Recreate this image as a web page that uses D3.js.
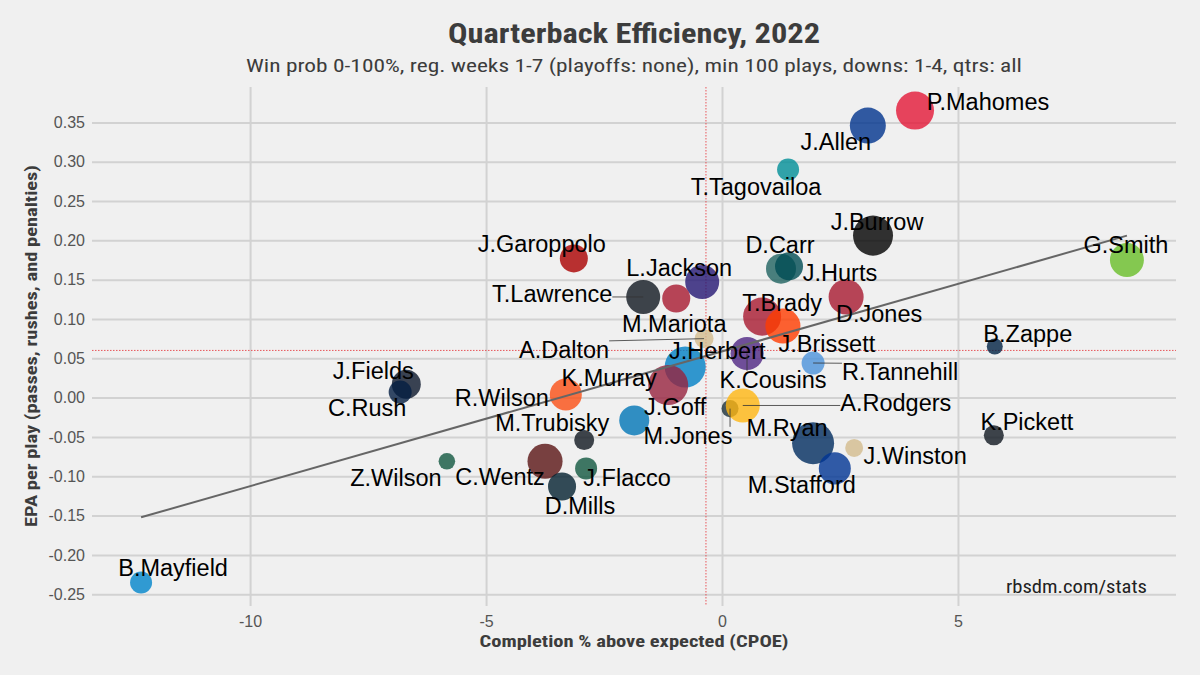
<!DOCTYPE html>
<html>
<head>
<meta charset="utf-8">
<script src="https://cdn.jsdelivr.net/npm/d3@7"></script>
<style>
  body { margin: 0; background: #F0F0F0; }
  text { font-family: "Liberation Sans", Arial, sans-serif; }
  .narrow { font-family: "Liberation Sans Narrow", "Roboto Condensed", Roboto, sans-serif; }
</style>
</head>
<body>
<svg id="chart" width="1200" height="675"></svg>
<script>
// QB data
var players = ["P.Mahomes","J.Allen","T.Tagovailoa","J.Burrow","G.Smith","D.Carr","J.Hurts","D.Jones","T.Brady","J.Brissett",
  "L.Jackson","T.Lawrence","M.Mariota","A.Dalton","J.Garoppolo","J.Herbert","K.Murray","K.Cousins","R.Tannehill","R.Wilson",
  "J.Goff","M.Jones","A.Rodgers","M.Trubisky","M.Ryan","M.Stafford","J.Winston","K.Pickett","B.Zappe","J.Fields",
  "C.Rush","Z.Wilson","C.Wentz","J.Flacco","D.Mills","B.Mayfield"];
var cpoe = [4.09, 3.09, 1.40, 3.20, 8.58, 1.25, 1.42, 2.63, 0.85, 1.29,
  -0.42, -1.67, -0.97, -0.38, -3.14, -0.78, -1.14, 0.53, 1.93, -3.31,
  -1.86, 0.17, 0.44, -2.92, 1.93, 2.39, 2.80, 5.76, 5.78, -6.69,
  -6.82, -5.83, -3.75, -2.88, -3.39, -12.31];
var epa = [0.365, 0.346, 0.290, 0.206, 0.175, 0.164, 0.167, 0.128, 0.103, 0.091,
  0.147, 0.128, 0.126, 0.075, 0.177, 0.039, 0.016, 0.056, 0.044, 0.004,
  -0.029, -0.014, -0.010, -0.054, -0.058, -0.090, -0.064, -0.048, 0.065, 0.017,
  0.007, -0.081, -0.081, -0.090, -0.113, -0.235];
var plays = [361, 333, 169, 390, 306, 256, 233, 320, 361, 320,
  306, 306, 233, 141, 233, 405, 390, 293, 179, 281,
  256, 124, 306, 150, 420, 281, 132, 150, 116, 244,
  179, 120, 320, 169, 233, 169];
var teamColors = ["#E31837","#00338D","#008E97","#000000","#69BE28","#1F6360","#004C54","#A71930","#A71930","#FF3C00",
  "#241773","#101820","#A71930","#D3BC8D","#AA0000","#0080C6","#97233F","#4F2683","#4B92DB","#FB4F14",
  "#0076B6","#1B3038","#FFB612","#101820","#002C5F","#003594","#D3BC8D","#101820","#002244","#0B162A",
  "#041E42","#125740","#5A1414","#125740","#03202F","#0085CA"];

var xTicks = [-10, -5, 0, 5];
var yTicks = [-0.25, -0.20, -0.15, -0.10, -0.05, 0, 0.05, 0.10, 0.15, 0.20, 0.25, 0.30, 0.35];
var meanCpoe = -0.34, meanEpa = 0.060;

// label layout (pixel nudges from each point, like ggrepel placed them)
var labelNudge = [[73,-9],[-32,16],[-32,17],[4,-14],[-1,-15],[-1,-24],[51,6],[33,17],[20,-14],[44,18],
  [-23,-14],[-91,-3],[-2,25],[-140,11],[-32,-15],[32,-16],[-59,-7],[26,26],[87,9],[-64,3],
  [41,-14],[-42,27],[153,-3],[-32,-17],[-26,-15],[-33,16],[61,8],[33,-14],[33,-13],[-33,-13],
  [-33,16],[-51,16],[-45,15],[41,9],[18,19],[32,-15]];
var withSegment = ["T.Lawrence","A.Dalton","K.Cousins","R.Tannehill","M.Jones","A.Rodgers"];

var data = players.map(function(p, i) {
  return {name: p, x: cpoe[i], y: epa[i], n: plays[i], color: teamColors[i], nudge: labelNudge[i]};
});

var svg = d3.select("#chart");
svg.append("rect").attr("width", 1200).attr("height", 675).attr("fill", "#F0F0F0");

var padL = 92, padR = 1176, padT = 87, padB = 606;
var x = d3.scaleLinear().domain([-13.35, 9.62]).range([padL, padR]);
var y = d3.scaleLinear().domain([-0.265, 0.395]).range([padB, padT]);
var r = d3.scaleSqrt().domain([100, 420]).range([7, 21]);

var loc = d3.formatLocale({decimal: ".", thousands: ",", grouping: [3], currency: ["$", ""], minus: "-"});

// axes + grid
var yAxis = svg.append("g").attr("transform", "translate(" + padL + ",0)")
  .call(d3.axisLeft(y).tickValues(yTicks).tickSize(-(padR - padL)).tickPadding(7).tickFormat(loc.format(".2f")));
var xAxis = svg.append("g").attr("transform", "translate(0," + padB + ")")
  .call(d3.axisBottom(x).tickValues(xTicks).tickSize(0).tickPadding(10).tickFormat(loc.format("d")));
xAxis.selectAll(".tick line").attr("y1", -(padB - padT)).attr("y2", 0);
[yAxis, xAxis].forEach(function(g) {
  g.select(".domain").remove();
  g.selectAll(".tick line").attr("stroke", "#D2D2D2").attr("stroke-width", 2);
  g.selectAll(".tick text").attr("fill", "#555").style("font-size", "16px")
    .style("font-family", "'Liberation Sans', Arial, sans-serif");
});

// average lines
svg.append("line").attr("x1", x(meanCpoe)).attr("x2", x(meanCpoe)).attr("y1", padT).attr("y2", padB)
  .attr("stroke", "#E8464B").attr("stroke-width", 1).attr("stroke-dasharray", "1.5,1.5").attr("opacity", 0.9);
svg.append("line").attr("x1", padL).attr("x2", padR).attr("y1", y(meanEpa)).attr("y2", y(meanEpa))
  .attr("stroke", "#E8464B").attr("stroke-width", 1).attr("stroke-dasharray", "1.5,1.5").attr("opacity", 0.9);

// points
svg.append("g").selectAll("circle").data(data).enter().append("circle")
  .attr("cx", function(d) { return x(d.x); })
  .attr("cy", function(d) { return y(d.y); })
  .attr("r", function(d) { return r(d.n); })
  .attr("fill", function(d) { return d.color; })
  .attr("fill-opacity", 0.8);

// linear fit
var mx = d3.mean(cpoe), my = d3.mean(epa);
var slope = d3.sum(data, function(d) { return (d.x - mx) * (d.y - my); }) / d3.sum(data, function(d) { return (d.x - mx) * (d.x - mx); });
var icpt = my - slope * mx;
var xr = d3.extent(cpoe);
svg.append("line")
  .attr("x1", x(xr[0])).attr("y1", y(icpt + slope * xr[0]))
  .attr("x2", x(xr[1])).attr("y2", y(icpt + slope * xr[1]))
  .attr("stroke", "#666").attr("stroke-width", 2);

// labels
var labels = svg.append("g");
var segs = svg.append("g");
data.forEach(function(d) {
  var px = x(d.x), py = y(d.y);
  var t = labels.append("text")
    .attr("x", px + d.nudge[0]).attr("y", py + d.nudge[1]).attr("dy", "0.35em")
    .attr("text-anchor", "middle").attr("fill", "#000").style("font-size", "23.5px")
    .text(d.name);
  if (withSegment.indexOf(d.name) >= 0) {
    var b = t.node().getBBox();
    var sx = Math.max(b.x, Math.min(px, b.x + b.width));
    var sy = Math.max(b.y + 4, Math.min(py, b.y + b.height - 4));
    segs.append("line").attr("x1", sx).attr("y1", sy).attr("x2", px).attr("y2", py)
      .attr("stroke", "#333").attr("stroke-width", 0.8);
  }
});

// titles
svg.append("text").attr("class", "narrow").attr("x", 634).attr("y", 43).attr("text-anchor", "middle")
  .attr("fill", "#3C3C3C").style("font-size", "27px").style("font-weight", "bold")
  .attr("textLength", 372).attr("lengthAdjust", "spacingAndGlyphs")
  .text("Quarterback Efficiency, 2022");
svg.append("text").attr("class", "narrow").attr("x", 634).attr("y", 72).attr("text-anchor", "middle")
  .attr("fill", "#3C3C3C").style("font-size", "19px")
  .attr("textLength", 776).attr("lengthAdjust", "spacingAndGlyphs")
  .text("Win prob 0-100%, reg. weeks 1-7 (playoffs: none), min 100 plays, downs: 1-4, qtrs: all");
svg.append("text").attr("class", "narrow").attr("x", 634).attr("y", 647).attr("text-anchor", "middle")
  .attr("fill", "#3C3C3C").style("font-size", "16px").style("font-weight", "bold")
  .attr("textLength", 309).attr("lengthAdjust", "spacingAndGlyphs")
  .text("Completion % above expected (CPOE)");
svg.append("text").attr("class", "narrow").attr("transform", "translate(37,346) rotate(-90)").attr("text-anchor", "middle")
  .attr("fill", "#3C3C3C").style("font-size", "16px").style("font-weight", "bold")
  .attr("textLength", 362).attr("lengthAdjust", "spacingAndGlyphs")
  .text("EPA per play (passes, rushes, and penalties)");
svg.append("text").attr("class", "narrow").attr("x", 1147).attr("y", 593).attr("text-anchor", "end")
  .attr("fill", "#222").style("font-size", "18px")
  .attr("textLength", 141).attr("lengthAdjust", "spacingAndGlyphs")
  .text("rbsdm.com/stats");
</script>
</body>
</html>
